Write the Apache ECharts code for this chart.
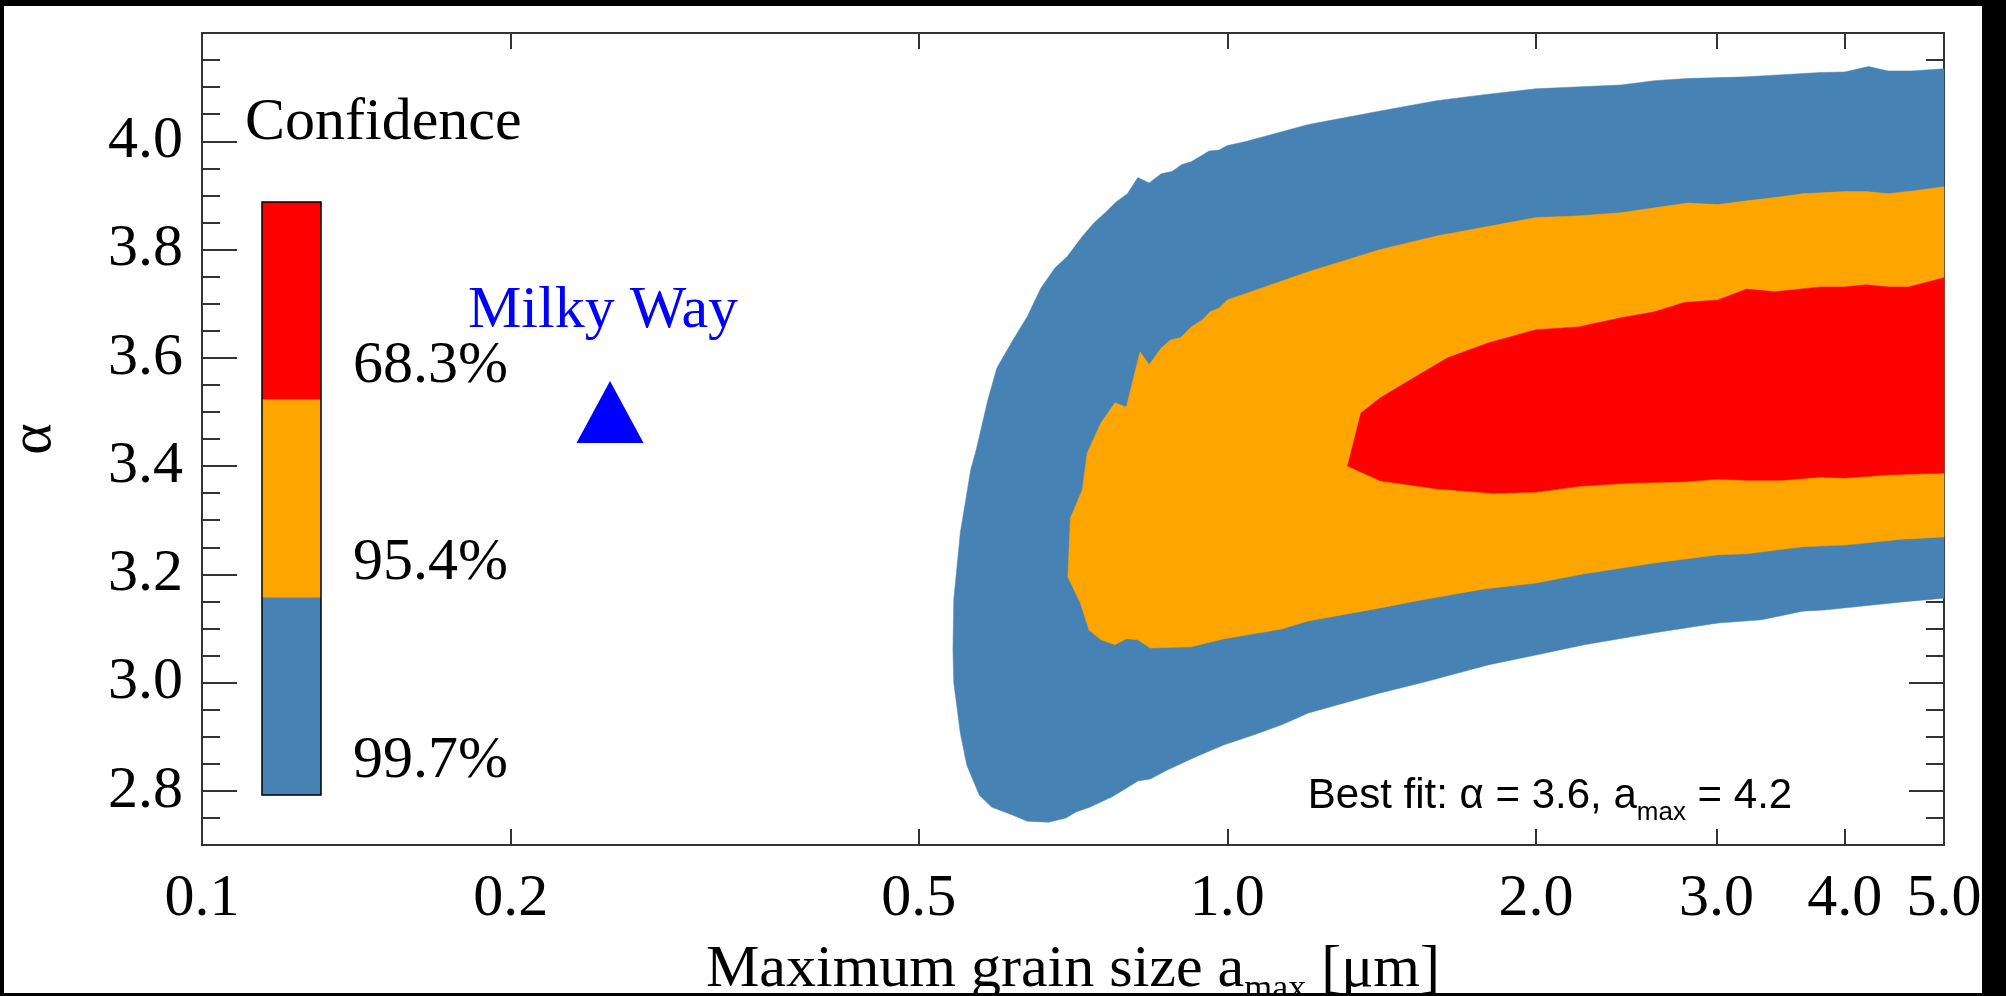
<!DOCTYPE html>
<html><head><meta charset="utf-8">
<script src="https://cdn.jsdelivr.net/npm/echarts@6/dist/echarts.min.js"></script>
<style>
html,body{margin:0;padding:0;background:#000;width:2006px;height:996px;overflow:hidden}
#frame{position:absolute;left:4px;top:6px;width:1978px;height:987px;overflow:hidden;background:#fff}
#chart{position:absolute;left:-4px;top:-6px;width:2006px;height:996px}
</style></head><body>
<div id="frame"><div id="chart"></div></div>
<script>
// ---- data (x: maximum grain size in micron, y: alpha) ----
const xTicks = [0.1, 0.2, 0.5, 1, 2, 3, 4, 5];
const yTicks = [2.8, 3.0, 3.2, 3.4, 3.6, 3.8, 4.0];
const confLabels = ['68.3%', '95.4%', '99.7%'];
const confColors = ['#ff0000', '#ffa500', '#4682b4'];

const blueX = [5.0, 4.65, 4.41, 4.22, 4.00, 3.79, 3.48, 3.21, 2.81, 2.61, 2.42, 2.00, 1.78, 1.60, 1.41, 1.20, 1.04, 1.00, 0.982, 0.960, 0.922, 0.903, 0.883, 0.862, 0.839, 0.818, 0.799, 0.779, 0.760, 0.741, 0.722, 0.698, 0.679, 0.658, 0.638, 0.618, 0.596, 0.584, 0.569, 0.562, 0.549, 0.541, 0.540, 0.541, 0.549, 0.557, 0.573, 0.589, 0.618, 0.638, 0.669, 0.696, 0.712, 0.735, 0.772, 0.797, 0.818, 0.841, 0.875, 0.932, 0.993, 1.06, 1.13, 1.20, 1.41, 1.55, 1.80, 2.00, 2.23, 2.61, 3.01, 3.32, 3.64, 3.82, 4.55, 5.0];
const blueY = [4.134, 4.130, 4.130, 4.138, 4.128, 4.127, 4.123, 4.119, 4.116, 4.112, 4.104, 4.097, 4.086, 4.075, 4.056, 4.031, 3.999, 3.992, 3.984, 3.982, 3.962, 3.957, 3.944, 3.940, 3.923, 3.933, 3.903, 3.888, 3.868, 3.849, 3.824, 3.787, 3.766, 3.729, 3.676, 3.633, 3.581, 3.522, 3.430, 3.393, 3.277, 3.153, 3.060, 3.000, 2.907, 2.848, 2.792, 2.770, 2.755, 2.744, 2.742, 2.750, 2.761, 2.770, 2.789, 2.805, 2.818, 2.822, 2.839, 2.863, 2.885, 2.903, 2.922, 2.944, 2.981, 3.000, 3.033, 3.051, 3.070, 3.092, 3.110, 3.116, 3.132, 3.134, 3.149, 3.156];

const orangeX = [5.0, 4.70, 4.41, 4.20, 4.00, 3.64, 3.42, 3.21, 3.01, 2.81, 2.61, 2.42, 2.19, 2.00, 1.60, 1.41, 1.20, 1.00, 0.982, 0.962, 0.945, 0.922, 0.900, 0.880, 0.862, 0.839, 0.822, 0.797, 0.777, 0.753, 0.730, 0.722, 0.703, 0.699, 0.719, 0.733, 0.753, 0.777, 0.797, 0.818, 0.841, 0.922, 0.993, 1.13, 1.20, 1.41, 1.55, 1.78, 2.00, 2.23, 2.61, 3.01, 3.21, 3.64, 4.00, 4.55, 5.0];
const orangeY = [3.916, 3.909, 3.903, 3.907, 3.907, 3.903, 3.896, 3.890, 3.883, 3.886, 3.877, 3.868, 3.862, 3.859, 3.825, 3.800, 3.759, 3.707, 3.692, 3.685, 3.670, 3.657, 3.637, 3.633, 3.618, 3.587, 3.611, 3.509, 3.517, 3.480, 3.424, 3.356, 3.304, 3.195, 3.147, 3.097, 3.079, 3.070, 3.081, 3.079, 3.064, 3.066, 3.081, 3.099, 3.114, 3.138, 3.153, 3.173, 3.184, 3.201, 3.221, 3.236, 3.238, 3.251, 3.254, 3.265, 3.269];

const redX = [5.0, 4.62, 4.41, 4.20, 4.00, 3.79, 3.42, 3.21, 3.01, 2.79, 2.61, 2.42, 2.20, 2.00, 1.80, 1.64, 1.52, 1.41, 1.35, 1.31, 1.41, 1.60, 1.82, 2.00, 2.21, 2.49, 2.78, 3.01, 3.21, 3.48, 3.79, 4.00, 4.41, 5.0];
const redY = [3.748, 3.731, 3.731, 3.735, 3.731, 3.731, 3.722, 3.727, 3.707, 3.702, 3.685, 3.674, 3.657, 3.652, 3.628, 3.600, 3.563, 3.526, 3.498, 3.400, 3.373, 3.358, 3.350, 3.352, 3.363, 3.369, 3.371, 3.376, 3.374, 3.374, 3.380, 3.378, 3.384, 3.387];

const milkyWayX = [0.25];
const milkyWayY = [3.5];
const milkyWayLabel = 'Milky Way';
const bestFitText = '{m|Best fit: α = 3.6, a}{s|max}{m| = 4.2}';

// ---- chart ----
const SERIF = "'Liberation Serif', 'Times New Roman', serif";
const SANS = "'Liberation Sans', Arial, sans-serif";
const AX = '#333333';

const regions = [
  { x: blueX, y: blueY, color: confColors[2] },
  { x: orangeX, y: orangeY, color: confColors[1] },
  { x: redX, y: redY, color: confColors[0] }
];

const axLine = { show: true, onZero: false, lineStyle: { color: AX, width: 2 } };
const tickStyle = { color: AX, width: 2 };

const xCommon = {
  type: 'log', logBase: 10, min: 0.1, max: 5,
  splitLine: { show: false }, minorTick: { show: false }, minorSplitLine: { show: false },
  axisLine: axLine,
  axisTick: { show: true, inside: true, length: 16, customValues: xTicks, lineStyle: tickStyle }
};
const yCommon = {
  type: 'value', min: 2.7, max: 4.2,
  splitLine: { show: false }, axisLine: { show: false }, axisLabel: { show: false }
};

const cbX = 262, cbY = 202, cbW = 59, cbH = 593;
const seg = cbH / 3;
const graphics = [];
confColors.forEach((c, i) => {
  graphics.push({ type: 'rect', shape: { x: cbX, y: cbY + i * seg, width: cbW, height: seg }, style: { fill: c } });
  graphics.push({ type: 'text', x: 353, y: cbY + i * seg + 0.83 * seg,
    style: { text: confLabels[i], font: '60px ' + SERIF, fill: '#000', align: 'left', verticalAlign: 'middle' } });
});
graphics.push({ type: 'rect', shape: { x: cbX, y: cbY, width: cbW, height: cbH }, style: { fill: 'none', stroke: '#000', lineWidth: 1.5 } });
graphics.push({ type: 'text', x: 245, y: 123, style: { text: 'Confidence', font: '60px ' + SERIF, fill: '#000', align: 'left', verticalAlign: 'middle' } });
graphics.push({ type: 'text', x: 1550, y: 766, style: {
  text: bestFitText, align: 'center', verticalAlign: 'top',
  rich: {
    m: { fontSize: 42, fontFamily: SANS, lineHeight: 60, fill: '#000' },
    s: { fontSize: 26, fontFamily: SANS, lineHeight: 26, verticalAlign: 'bottom', fill: '#000' }
  }
} });

const option = {
  animation: false,
  backgroundColor: '#ffffff',
  grid: { left: 202, right: 62, top: 33, bottom: 151, containLabel: false, outerBoundsMode: 'none' },
  xAxis: [
    Object.assign({}, xCommon, {
      position: 'bottom',
      axisLabel: { show: true, customValues: xTicks, formatter: v => Number(v).toFixed(1), margin: 24,
        fontFamily: SERIF, fontSize: 60, color: '#000' },
      name: '{m|Maximum grain size a}{s|max}{m| [μm]}', nameLocation: 'middle', nameGap: 87,
      nameTextStyle: {
        fontFamily: SERIF, fontSize: 60, color: '#000',
        rich: {
          m: { fontFamily: SERIF, fontSize: 60, lineHeight: 76, color: '#000' },
          s: { fontFamily: SERIF, fontSize: 36, lineHeight: 36, verticalAlign: 'bottom', color: '#000' }
        }
      }
    }),
    Object.assign({}, xCommon, { position: 'top', axisLabel: { show: false } })
  ],
  yAxis: [
    Object.assign({}, yCommon, {
      position: 'left', axisLine: axLine,
      axisTick: { show: true, inside: true, length: 35, customValues: yTicks, lineStyle: tickStyle },
      axisLabel: { show: true, customValues: yTicks, formatter: v => Number(v).toFixed(1), margin: 19,
        fontFamily: SERIF, fontSize: 60, color: '#000' },
      name: 'α', nameLocation: 'middle', nameGap: 138,
      nameTextStyle: { fontFamily: SERIF, fontSize: 60, color: '#000' }
    }),
    Object.assign({}, yCommon, { position: 'left', interval: 0.05,
      axisTick: { show: true, inside: true, length: 18, lineStyle: tickStyle } }),
    Object.assign({}, yCommon, { position: 'right', axisLine: axLine,
      axisTick: { show: true, inside: true, length: 35, customValues: yTicks, lineStyle: tickStyle } }),
    Object.assign({}, yCommon, { position: 'right', interval: 0.05,
      axisTick: { show: true, inside: true, length: 18, lineStyle: tickStyle } })
  ],
  series: [
    {
      type: 'custom', xAxisIndex: 0, yAxisIndex: 0, silent: true, z: 1,
      data: regions.map(r => [r.x[0], r.y[0]]),
      renderItem: (params, api) => {
        const r = regions[params.dataIndex];
        const pts = r.x.map((xv, i) => api.coord([xv, r.y[i]]));
        return { type: 'polygon', shape: { points: pts }, style: { fill: r.color, stroke: r.color, lineWidth: 0.5 } };
      }
    },
    {
      type: 'scatter', xAxisIndex: 0, yAxisIndex: 0, z: 3,
      data: milkyWayX.map((x, i) => [x, milkyWayY[i]]),
      symbol: 'triangle', symbolSize: [67, 62],
      itemStyle: { color: '#0000ff', opacity: 1 },
      label: { show: true, formatter: milkyWayLabel, position: 'top', distance: 40, offset: [-7, 0],
        fontFamily: SERIF, fontSize: 60, color: '#0000ff', opacity: 1 }
    }
  ],
  graphic: graphics
};

const chart = echarts.init(document.getElementById('chart'), null, { renderer: 'canvas' });
chart.setOption(option);
</script></body></html>
